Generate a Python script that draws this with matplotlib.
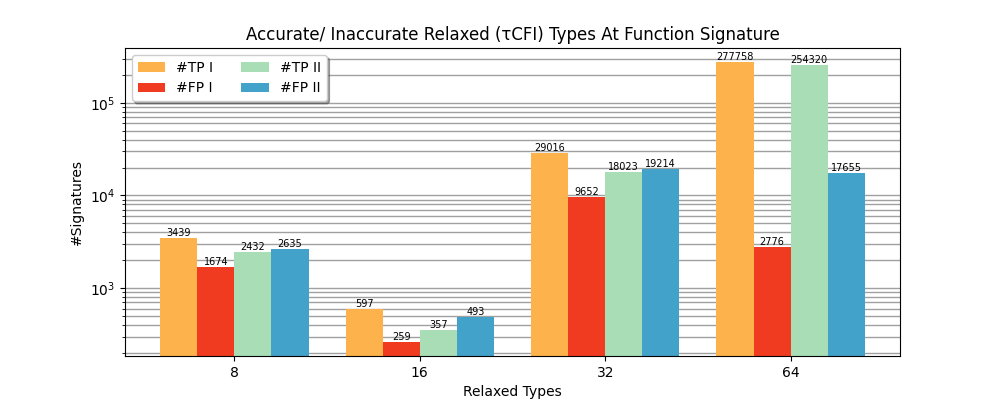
import numpy as np
import matplotlib
matplotlib.use('Agg')
import matplotlib.pyplot as plt

# data
relaxed_types = ['8', '16', '32', '64']
tp_1 = [3439, 597, 29016, 277758]
fp_1 = [1674, 259, 9652, 2776]
tp_2 = [2432, 357, 18023, 254320]
fp_2 = [2635, 493, 19214, 17655]

series = [('#TP I', tp_1, '#FEB24C'),
          ('#FP I', fp_1, '#F03B20'),
          ('#TP II', tp_2, '#A8DDB5'),
          ('#FP II', fp_2, '#43A2CA')]

x = np.arange(len(relaxed_types))
width = 0.2

fig, ax = plt.subplots(figsize=(10, 4), dpi=100)
ax.set_axisbelow(True)
ax.grid(True, which='both', axis='y', color='#a0a0a0', linewidth=1)

for i, (name, vals, color) in enumerate(series):
    pos = x + (i - 1.5) * width
    bars = ax.bar(pos, vals, width, label=name, color=color)
    for b, v in zip(bars, vals):
        ax.text(b.get_x() + b.get_width() / 2, v, str(v),
                ha='center', va='bottom', fontsize=7)

ax.set_yscale('log')
ax.set_ylim(185, 3.9e5)
ax.set_xticks(x)
ax.set_xticklabels(relaxed_types)
ax.set_xlabel('Relaxed Types')
ax.set_ylabel('#Signatures')
ax.set_title('Accurate/ Inaccurate Relaxed (τCFI) Types At Function Signature')
ax.legend(ncol=2, loc='upper left', shadow=True)

plt.savefig('out.png')
